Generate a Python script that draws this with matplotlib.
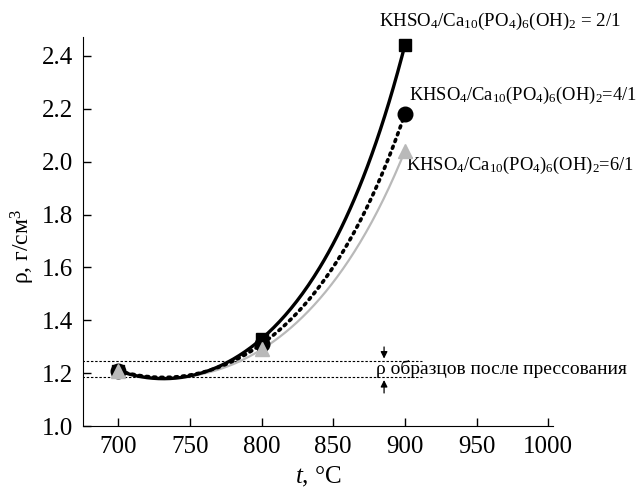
import numpy as np
import matplotlib
matplotlib.use("Agg")
import matplotlib.pyplot as plt

plt.rcParams["font.family"] = ["Liberation Serif", "DejaVu Serif"]
plt.rcParams["mathtext.fontset"] = "custom"
plt.rcParams["mathtext.rm"] = "Liberation Serif"
plt.rcParams["mathtext.it"] = "Liberation Serif:italic"

# temperature, deg C
temps = [700, 800, 900]
# density, g/cm3, for KHSO4/HAP ratios
rho_2 = [1.21, 1.33, 2.44]
rho_4 = [1.21, 1.31, 2.18]
rho_6 = [1.21, 1.29, 2.04]
ratio_labels = [" = 2/1", "=4/1", "=6/1"]
# density of pressed samples (band)
rho_pressed = [1.185, 1.245]

formula = r"KHSO$_4$/Ca$_{10}$(PO$_4$)$_6$(OH)$_2$"

fig = plt.figure(figsize=(6.44, 4.91), dpi=100)
ax = fig.add_axes([0.129, 0.132, 0.730, 0.792])

gray = "#b9b9b9"
t_fine = np.linspace(700, 900, 200)


def trend(y):
    # smooth trend line through the measured points
    p = np.polyfit(temps, np.log(y), 2)
    return np.exp(np.polyval(p, t_fine))


ax.plot(t_fine, trend(rho_6), color=gray, lw=1.6, zorder=2)
ax.plot(t_fine, trend(rho_4), color="black", lw=2.6, ls=(0, (0.6, 1.4)),
        dash_capstyle="round", zorder=3)
ax.plot(t_fine, trend(rho_2), color="black", lw=2.4, zorder=4)

ax.plot(temps, rho_4, "o", color="black", ms=10.5, zorder=5)
ax.plot(temps, rho_2, "s", color="black", ms=9, zorder=6)
ax.plot(temps, rho_6, "^", color=gray, ms=10, zorder=7)

# pressed-sample band
for yv in rho_pressed:
    ax.plot([675, 912], [yv, yv], color="black", lw=0.8, ls=(0, (2.2, 1.6)), zorder=1)
ax.annotate("", xy=(885.5, rho_pressed[1]), xytext=(885.5, 1.31),
            arrowprops=dict(arrowstyle="-|>", color="black", lw=0.9, mutation_scale=10))
ax.annotate("", xy=(885.5, rho_pressed[0]), xytext=(885.5, 1.115),
            arrowprops=dict(arrowstyle="-|>", color="black", lw=0.9, mutation_scale=10))
ax.text(880, 1.215, "ρ образцов после прессования", fontsize=14,
        va="center", ha="left")

ax.text(882, 2.53, formula + ratio_labels[0], fontsize=13.6, va="center", ha="left",
        clip_on=False)
ax.text(903, 2.252, formula + ratio_labels[1], fontsize=13.3, va="center", ha="left",
        clip_on=False)
ax.text(901, 1.986, formula + ratio_labels[2], fontsize=13.3, va="center", ha="left",
        clip_on=False)

ax.set_xlim(675.5, 1003.5)
ax.set_ylim(1.0, 2.47)
ax.set_xticks([700, 750, 800, 850, 900, 950, 1000])
ax.set_yticks([1.0, 1.2, 1.4, 1.6, 1.8, 2.0, 2.2, 2.4])
ax.set_yticklabels(["1.0", "1.2", "1.4", "1.6", "1.8", "2.0", "2.2", "2.4"])
ax.tick_params(direction="in", length=6, width=1, labelsize=18, pad=7)
ax.spines["top"].set_visible(False)
ax.spines["right"].set_visible(False)
ax.set_xlabel(r"$\it{t}$, °C", fontsize=18, labelpad=5)
ax.set_ylabel("ρ, г/см$^3$", fontsize=17)
ax.yaxis.set_label_coords(-0.098, 0.463)

fig.savefig("out.png", dpi=100)
